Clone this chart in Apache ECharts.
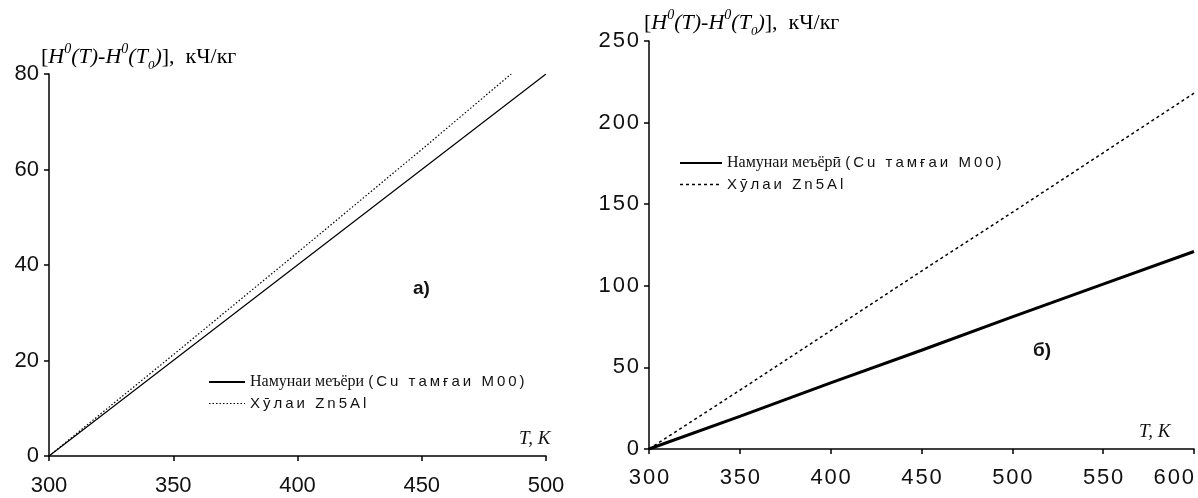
<!DOCTYPE html>
<html><head><meta charset="utf-8">
<script src="https://cdn.jsdelivr.net/npm/echarts@6/dist/echarts.min.js"></script>
<style>html,body{margin:0;padding:0;background:#fff}#c{width:1198px;height:498px}</style>
</head><body><div id="c"></div>
<script>
// ---- data ----
const leftXTicks = [300, 350, 400, 450, 500];
const leftYTicks = [0, 20, 40, 60, 80];
const rightXTicks = [300, 350, 400, 450, 500, 550, 600];
const rightYTicks = [0, 50, 100, 150, 200, 250];

const leftCuT = [300, 350, 400, 450, 500];
const leftCuH = [0, 20, 40, 60, 80];
const leftZnT = [300, 350, 400, 450, 486];
const leftZnH = [0, 21.2, 42.6, 64.2, 80];

const rightT = [300, 350, 400, 450, 500, 550, 600];
const rightCuH = [0, 20, 40.5, 60.5, 81, 101, 121];
const rightZnH = [0, 36, 72.5, 109, 145, 181.5, 218];

const nameCuLeft = 'Намунаи меъёри (Cu тамғаи М00)';
const nameCuRight = 'Намунаи меъёрӣ (Cu тамғаи М00)';
const nameZn = 'Хӯлаи Zn5Al';

const zip = (a, b) => a.map((v, i) => [v, b[i]]);
const step = a => a[1] - a[0];

const labelFont = {fontFamily: "'Liberation Sans Narrow', 'Liberation Sans'", fontSize: 22, color: '#111'};
const axisLine = {show: true, lineStyle: {color: '#000', width: 1.5}};
const axisTick = {show: true, inside: false, length: 5, lineStyle: {color: '#000', width: 1.5}};

const legendRich = {
  s: {fontFamily: 'Liberation Serif', fontSize: 16, color: '#111'},
  n: {fontFamily: 'Liberation Sans', fontSize: 15, color: '#111'}
};
const spread = s => s.split('').join('\u2009');
const legendFmt = name => {
  const i = name.indexOf('(');
  return i > 0 ? '{s|' + name.slice(0, i) + '}{n|' + spread(name.slice(i)) + '}' : '{n|' + spread(name) + '}';
};

const titleRich = {
  b: {fontFamily: 'Liberation Serif', fontSize: 22, color: '#111', lineHeight: 26, verticalAlign: 'bottom'},
  i: {fontFamily: 'Liberation Serif', fontSize: 22, fontStyle: 'italic', color: '#111', lineHeight: 26, verticalAlign: 'bottom'},
  sup: {fontFamily: 'Liberation Serif', fontSize: 14, fontStyle: 'italic', color: '#111', lineHeight: 26, verticalAlign: 'top'},
  sub: {fontFamily: 'Liberation Serif', fontSize: 13, fontStyle: 'italic', color: '#111', lineHeight: 26, verticalAlign: 'bottom', padding: [0, 0, -4, 0]}
};
const titleText = '{b|[}{i|H}{sup|0}{i|(T)-H}{sup|0}{i|(T}{sub|0}{i|)}{b|],  кЧ/кг}';

const spaced = v => String(v).split('').join('\u200a');

const chart = echarts.init(document.getElementById('c'), null, {renderer: 'canvas'});
chart.setOption({
  backgroundColor: '#fff',
  animation: false,
  grid: [
    {left: 49, right: 652, top: 74, bottom: 42},
    {left: 649, right: 4, top: 41, bottom: 49}
  ],
  xAxis: [
    {gridIndex: 0, type: 'value', min: leftXTicks[0], max: leftXTicks[leftXTicks.length - 1], interval: step(leftXTicks),
     axisLine, axisTick, splitLine: {show: false}, axisLabel: Object.assign({margin: 19}, labelFont)},
    {gridIndex: 1, type: 'value', min: rightXTicks[0], max: rightXTicks[rightXTicks.length - 1], interval: step(rightXTicks),
     axisLine, axisTick, splitLine: {show: false},
     axisLabel: Object.assign({margin: 18, formatter: spaced, alignMaxLabel: 'right'}, labelFont)}
  ],
  yAxis: [
    {gridIndex: 0, type: 'value', min: leftYTicks[0], max: leftYTicks[leftYTicks.length - 1], interval: step(leftYTicks),
     axisLine, axisTick, splitLine: {show: false}, axisLabel: Object.assign({margin: 10}, labelFont)},
    {gridIndex: 1, type: 'value', min: rightYTicks[0], max: rightYTicks[rightYTicks.length - 1], interval: step(rightYTicks),
     axisLine, axisTick, splitLine: {show: false}, axisLabel: Object.assign({margin: 10, formatter: spaced}, labelFont)}
  ],
  legend: [
    {orient: 'vertical', left: 203, top: 369, itemWidth: 36, itemHeight: 10, itemGap: 6,
     itemStyle: {opacity: 0},
     data: [{name: nameCuLeft}, {name: nameZn, lineStyle: {color: '#000', width: 1.2, type: [1.5, 2]}}],
     formatter: legendFmt, textStyle: {rich: legendRich}},
    {orient: 'vertical', left: 674, top: 150, itemWidth: 42, itemHeight: 10, itemGap: 6,
     itemStyle: {opacity: 0},
     data: [{name: nameCuRight}, {name: nameZn, lineStyle: {color: '#000', width: 1.5, type: [3, 3]}}],
     formatter: legendFmt, textStyle: {rich: legendRich}}
  ],
  series: [
    {name: nameCuLeft, type: 'line', xAxisIndex: 0, yAxisIndex: 0, data: zip(leftCuT, leftCuH),
     symbol: 'none', lineStyle: {color: '#000', width: 1.2, type: 'solid'}, itemStyle: {color: '#000'}},
    {name: nameZn, type: 'line', xAxisIndex: 0, yAxisIndex: 0, data: zip(leftZnT, leftZnH),
     symbol: 'none', lineStyle: {color: '#000', width: 1.2, type: [1.5, 2]}, itemStyle: {color: '#000'}},
    {name: nameCuRight, type: 'line', xAxisIndex: 1, yAxisIndex: 1, data: zip(rightT, rightCuH),
     symbol: 'none', lineStyle: {color: '#000', width: 3, type: 'solid'}, itemStyle: {color: '#000'}},
    {name: nameZn, type: 'line', xAxisIndex: 1, yAxisIndex: 1, data: zip(rightT, rightZnH),
     symbol: 'none', lineStyle: {color: '#000', width: 1.5, type: [3, 3]}, itemStyle: {color: '#000'}}
  ],
  graphic: [
    {type: 'text', left: 41, top: 42, style: {text: titleText, rich: titleRich}},
    {type: 'text', left: 644, top: 8, style: {text: titleText, rich: titleRich}},
    {type: 'text', left: 519, top: 429, style: {text: 'T, K', fontFamily: 'Liberation Serif', fontStyle: 'italic', fontSize: 19, fill: '#111'}},
    {type: 'text', left: 1139, top: 422, style: {text: 'T, K', fontFamily: 'Liberation Serif', fontStyle: 'italic', fontSize: 19, fill: '#111'}},
    {type: 'text', left: 413, top: 279, style: {text: 'а)', fontFamily: 'Liberation Sans', fontWeight: 'bold', fontSize: 19, fill: '#111'}},
    {type: 'text', left: 1033, top: 341, style: {text: 'б)', fontFamily: 'Liberation Sans', fontWeight: 'bold', fontSize: 19, fill: '#111'}}
  ]
});
</script>
</body></html>
